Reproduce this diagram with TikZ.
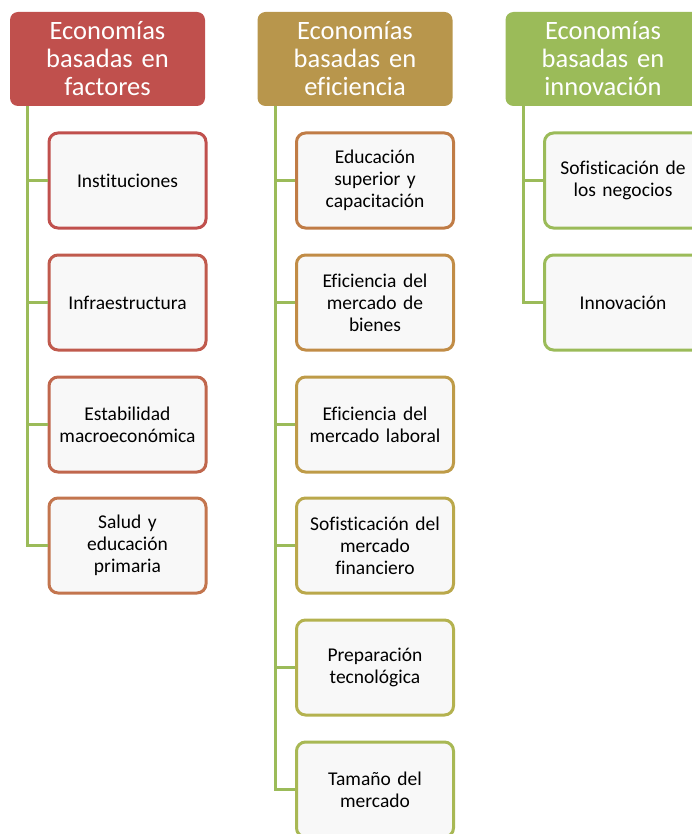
\documentclass[tikz,border=0pt]{standalone}
\usepackage{fontspec}
\setmainfont[Ligatures=NoCommon]{Carlito}
\definecolor{rojo}{HTML}{C0504D}
\definecolor{oro}{HTML}{B8964C}
\definecolor{verde}{HTML}{9BBB59}
\definecolor{fondo}{HTML}{F8F8F8}
\definecolor{borde2}{RGB}{192,90,77}
\definecolor{borde3}{RGB}{192,103,77}
\definecolor{borde4}{RGB}{195,117,78}
\definecolor{borde5}{RGB}{192,124,70}
\definecolor{borde6}{RGB}{193,140,70}
\definecolor{borde7}{RGB}{190,155,72}
\definecolor{borde8}{RGB}{186,168,75}
\definecolor{borde9}{RGB}{180,178,79}
\definecolor{borde10}{RGB}{168,184,84}

\begin{document}
\begin{tikzpicture}[x=1pt,y=-1pt,
	cabeza/.style={rounded corners=8pt, minimum width=195pt, minimum height=94pt, text width=185pt, align=center, text=white, font=\fontsize{26.5}{28}\selectfont},
	hoja/.style={draw=#1, fill=fondo, line width=3pt, rounded corners=9pt, minimum width=157pt, minimum height=95pt, text width=150pt, align=center, font=\fontsize{19.5}{22}\selectfont},
	rama/.style={draw=verde, line width=3pt}]
	\useasboundingbox (0,0) rectangle (691,834);
% ENCABEZADOS
	\node [cabeza, fill=rojo] (fac) at (107.5,59) {Economías\\basadas en\\factores};
	\node [cabeza, fill=oro] (efi) at (355,59) {Economías\\basadas en\\eficiencia};
	\node [cabeza, fill=verde] (inn) at (603,59) {Economías\\basadas en\\innovación};
% FACTORES
	\node [hoja=rojo] (fac1) at (127.5,180.5) {Instituciones};
	\node [hoja=borde2] (fac2) at (127.5,302.5) {Infraestructura};
	\node [hoja=borde3] (fac3) at (127.5,424.5) {Estabilidad\\macroeconómica};
	\node [hoja=borde4] (fac4) at (127.5,545.5) {Salud y\\educación\\primaria};
% EFICIENCIA
	\node [hoja=borde5] (efi1) at (375,180.5) {Educación\\superior y\\capacitación};
	\node [hoja=borde6] (efi2) at (375,302.5) {Eficiencia del\\mercado de\\bienes};
	\node [hoja=borde7] (efi3) at (375,424.5) {Eficiencia del\\mercado laboral};
	\node [hoja=borde8] (efi4) at (375,545.5) {Sofisticación del\\mercado\\financiero};
	\node [hoja=borde9] (efi5) at (375,667.5) {Preparación\\tecnológica};
	\node [hoja=borde10] (efi6) at (375,789.5) {Tamaño del\\mercado};
% INNOVACION
	\node [hoja=verde] (inn1) at (623,180.5) {Sofisticación de\\los negocios};
	\node [hoja=verde] (inn2) at (623,302.5) {Innovación};
% CONECTORES
	\draw [rama] ([xshift=18pt]fac.south west) |- (fac1.west);
	\draw [rama] ([xshift=18pt]fac.south west) |- (fac2.west);
	\draw [rama] ([xshift=18pt]fac.south west) |- (fac3.west);
	\draw [rama] ([xshift=18pt]fac.south west) |- (fac4.west);
	\draw [rama] ([xshift=18pt]efi.south west) |- (efi1.west);
	\draw [rama] ([xshift=18pt]efi.south west) |- (efi2.west);
	\draw [rama] ([xshift=18pt]efi.south west) |- (efi3.west);
	\draw [rama] ([xshift=18pt]efi.south west) |- (efi4.west);
	\draw [rama] ([xshift=18pt]efi.south west) |- (efi5.west);
	\draw [rama] ([xshift=18pt]efi.south west) |- (efi6.west);
	\draw [rama] ([xshift=18pt]inn.south west) |- (inn1.west);
	\draw [rama] ([xshift=18pt]inn.south west) |- (inn2.west);
\end{tikzpicture}
\end{document}
